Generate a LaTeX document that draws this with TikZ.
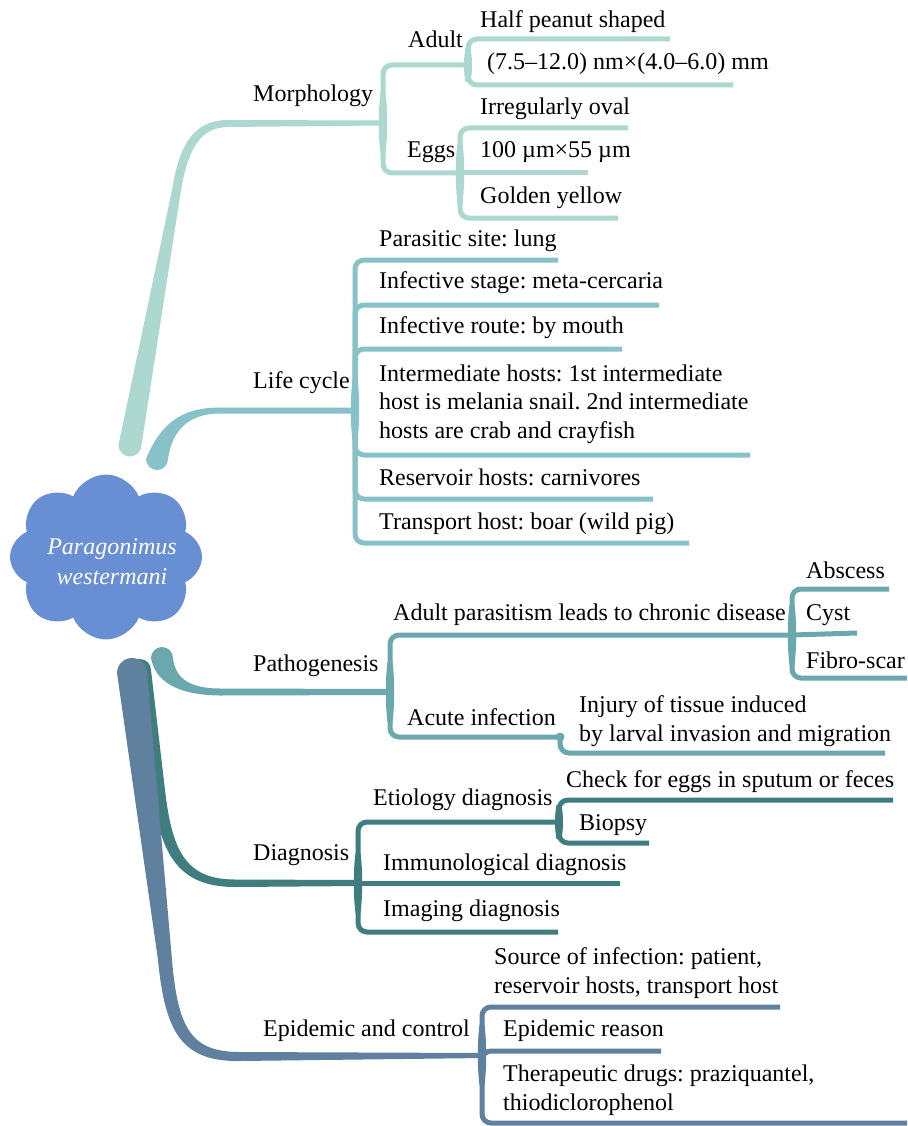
\documentclass[tikz,border=0pt]{standalone}
\usepackage{fontspec}
\setmainfont{Liberation Serif}
\frenchspacing
\usetikzlibrary{shapes.symbols}
\definecolor{mor}{RGB}{172,216,208}
\definecolor{lif}{RGB}{134,194,200}
\definecolor{pat}{RGB}{107,168,174}
\definecolor{dia}{RGB}{64,125,127}
\definecolor{epi}{RGB}{96,128,160}
\definecolor{cld}{RGB}{104,142,212}
\begin{document}
\begin{tikzpicture}[x=1pt,y=-1pt,
  lbl/.style={anchor=base west, inner sep=0pt, font=\fontsize{24}{28.5}\selectfont, text=black},
  sub/.style={line width=5pt, rounded corners=9pt},
  bulge/.pic={\fill (-2.5,-30) .. controls (-4.8,-12) and (-4.8,12) .. (-2.5,30) -- (2.5,30) .. controls (4.8,12) and (4.8,-12) .. (2.5,-30) -- cycle;},
  sbulge/.pic={\fill (-2.5,-17) .. controls (-4.5,-7) and (-4.5,7) .. (-2.5,17) -- (2.5,17) .. controls (4.5,7) and (4.5,-7) .. (2.5,-17) -- cycle;},
]
\fill[white] (0,0) rectangle (907,1126);
\useasboundingbox (0,0) rectangle (907,1126);

% ---------- main tapered branches ----------
% Morphology
\fill[mor] (118.5,445) -- (172,190) .. controls (179,146) and (193,120) .. (228,120)
  -- (385,120.5) -- (385,125.5) -- (228,127) .. controls (200,127) and (188,150) .. (181,190)
  -- (141.5,445) arc (0:180:11.5) -- cycle;
% Life cycle
\fill[lif] (146,459) arc (180:0:11) .. controls (171,438) and (182,413.5) .. (220,413.5)
  -- (357,413.5) -- (357,407.5) -- (220,407.5) .. controls (180,407.5) and (160,425) .. (146,459) -- cycle;
% Pathogenesis
\fill[pat] (151,658) arc (180:360:11) .. controls (175,675) and (185,688.5) .. (220,688.5)
  -- (392,689) -- (392,695) -- (220,695.5) .. controls (175,695) and (155,680) .. (151,658) -- cycle;
% Diagnosis
\fill[dia] (129,670) arc (180:360:11) -- (165,790) .. controls (172,850) and (185,879.5) .. (235,879.5)
  -- (360,880) -- (360,886) -- (235,887) .. controls (175,887) and (160,850) .. (152,790) -- cycle;
% Epidemic and control
\fill[epi] (117,673) arc (180:360:15) -- (172,960) .. controls (178,1030) and (192,1052) .. (240,1052)
  -- (484,1053) -- (484,1058) -- (240,1061) .. controls (180,1062) and (165,1030) .. (158,960) -- cycle;

% ---------- central cloud ----------
\node[cloud, cloud puffs=8, cloud puff arc=135, aspect=1.15, fill=cld, draw=none,
      minimum width=192pt, minimum height=165pt] (cloud) at (106,557) {};
\node[align=center, text=white, inner sep=0pt, font=\fontsize{24}{30}\selectfont\itshape]
      (cloudTxt) at (112,562) {Paragonimus\\westermani};

% ---------- junction coordinates ----------
\coordinate (morJ) at (383,123);
\coordinate (adultJ) at (468,65);
\coordinate (eggsJ) at (460,173);
\coordinate (halfE) at (670,39);
\coordinate (sevenE) at (733,85);
\coordinate (irrE) at (628,128);
\coordinate (hundE) at (588,173);
\coordinate (goldE) at (618,218);

\coordinate (lifJ) at (355,410);
\coordinate (parE) at (558,260);
\coordinate (stgE) at (659,305);
\coordinate (rouE) at (622,349);
\coordinate (intE) at (750,455);
\coordinate (resE) at (653,499);
\coordinate (traE) at (689,543);

\coordinate (patJ) at (390,692);
\coordinate (chrJ) at (792,635);
\coordinate (acuJ) at (560,737);
\coordinate (absE) at (889,589);
\coordinate (cysE) at (857,633);
\coordinate (fibE) at (907,678);
\coordinate (injE) at (885,753);

\coordinate (diaJ) at (358,883);
\coordinate (etiJ) at (559,822);
\coordinate (chkE) at (893,800);
\coordinate (bioE) at (649,843);
\coordinate (immE) at (620,883);
\coordinate (imgE) at (558,932);

\coordinate (epiJ) at (482,1055);
\coordinate (srcE) at (780,1007);
\coordinate (reaE) at (661,1051);
\coordinate (theE) at (907,1123);

% ---------- sub connectors ----------
\draw[sub,mor] (morJ) |- (adultJ);
\draw[sub,mor] (morJ) |- (eggsJ);
\draw[sub,mor] (adultJ) |- (halfE);
\draw[sub,mor] (adultJ) |- (sevenE);
\draw[sub,mor] (eggsJ) |- (irrE);
\draw[sub,mor] (eggsJ) -- (hundE);
\draw[sub,mor] (eggsJ) |- (goldE);
\pic[mor] at (morJ) {bulge};
\pic[mor] at (adultJ) {sbulge};
\pic[mor] at (eggsJ) {bulge};

\draw[sub,lif] (lifJ) |- (parE);
\draw[sub,lif] (lifJ) |- (stgE);
\draw[sub,lif] (lifJ) |- (rouE);
\draw[sub,lif] (lifJ) |- (intE);
\draw[sub,lif] (lifJ) |- (resE);
\draw[sub,lif] (lifJ) |- (traE);
\pic[lif] at (lifJ) {bulge};

\draw[sub,pat] (patJ) |- (chrJ);
\draw[sub,pat] (patJ) |- (acuJ);
\draw[sub,pat] (chrJ) |- (absE);
\draw[sub,pat] (chrJ) -- (cysE);
\draw[sub,pat] (chrJ) |- (fibE);
\draw[sub,pat] (acuJ) |- (injE);
\fill[pat] (acuJ) circle (4.5);
\pic[pat] at (patJ) {bulge};
\pic[pat] at (chrJ) {bulge};

\draw[sub,dia] (diaJ) |- (etiJ);
\draw[sub,dia] (diaJ) -- (immE);
\draw[sub,dia] (diaJ) |- (imgE);
\draw[sub,dia] (etiJ) |- (chkE);
\draw[sub,dia] (etiJ) |- (bioE);
\pic[dia] at (diaJ) {bulge};
\pic[dia] at (etiJ) {sbulge};

\draw[sub,epi] (epiJ) |- (srcE);
\draw[sub,epi] (epiJ) |- (reaE);
\draw[sub,epi] (epiJ) |- (theE);
\pic[epi] at (epiJ) {bulge};

% ---------- labels ----------
\node[lbl] (tHalf) at (480,28) {Half peanut shaped};
\node[lbl] (tAdult) at (408,48) {Adult};
\node[lbl] (tSeven) at (487,70) {(7.5–12.0) nm×(4.0–6.0) mm};
\node[lbl] (tMor) at (253,102) {Morphology};
\node[lbl] (tIrr) at (480,115) {Irregularly oval};
\node[lbl] (tEggs) at (407,158) {Eggs};
\node[lbl] (tHund) at (480,158) {100 µm×55 µm};
\node[lbl] (tGold) at (480,204) {Golden yellow};

\node[lbl] (tPar) at (379,246) {Parasitic site: lung};
\node[lbl] (tStg) at (379,288) {Infective stage: meta-cercaria};
\node[lbl] (tRou) at (379,333) {Infective route: by mouth};
\node[lbl, align=left] (tInt) at (379,438) {Intermediate hosts: 1st intermediate\\host is melania snail. 2nd intermediate\\hosts are crab and crayfish};
\node[lbl] (tLife) at (253,388) {Life cycle};
\node[lbl] (tRes) at (379,485) {Reservoir hosts: carnivores};
\node[lbl] (tTra) at (379,529) {Transport host: boar (wild pig)};

\node[lbl] (tAbs) at (806,578) {Abscess};
\node[lbl] (tAdP) at (393,620) {Adult parasitism leads to chronic disease};
\node[lbl] (tCys) at (806,620) {Cyst};
\node[lbl] (tFib) at (806,668) {Fibro-scar};
\node[lbl] (tPath) at (253,671) {Pathogenesis};
\node[lbl, align=left] (tInj) at (579,741) {Injury of tissue induced\\by larval invasion and migration};
\node[lbl] (tAcu) at (407,725) {Acute infection};

\node[lbl] (tChk) at (566,787) {Check for eggs in sputum or feces};
\node[lbl] (tEti) at (373,805) {Etiology diagnosis};
\node[lbl] (tBio) at (579,830) {Biopsy};
\node[lbl] (tDia) at (253,860) {Diagnosis};
\node[lbl] (tImm) at (383,870) {Immunological diagnosis};
\node[lbl] (tImg) at (383,916) {Imaging diagnosis};

\node[lbl, align=left] (tSrc) at (494,993) {Source of infection: patient,\\reservoir hosts, transport host};
\node[lbl] (tEpi) at (263,1036) {Epidemic and control};
\node[lbl] (tRea) at (503,1036) {Epidemic reason};
\node[lbl, align=left] (tThe) at (503,1110) {Therapeutic drugs: praziquantel,\\thiodiclorophenol};
\end{tikzpicture}
\end{document}
